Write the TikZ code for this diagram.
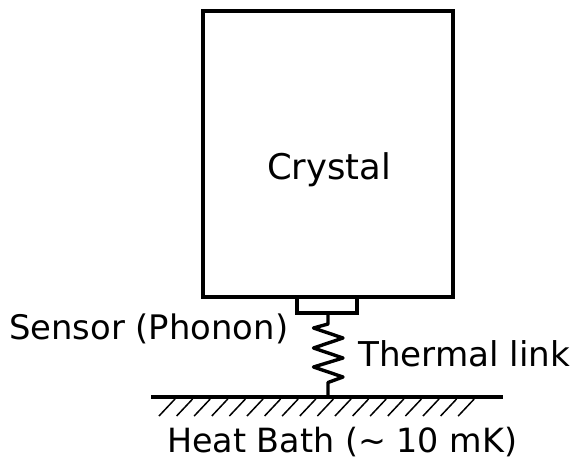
\documentclass[tikz,border=0pt]{standalone}
\usepackage{fontspec}
\setmainfont{DejaVu Sans}
\begin{document}
\begin{tikzpicture}[x=1pt,y=-1pt,
  body/.style={draw=black,line width=3.4pt,inner sep=0pt,outer sep=0pt},
  wire/.style={draw=black,line width=3.4pt,line join=round,line cap=round},
  hatchline/.style={draw=black,line width=1.5pt},
  lbl/.style={inner sep=0pt,font=\fontsize{30}{36}\selectfont,text=black,anchor=base west}]
\useasboundingbox (0,0) rectangle (574,459);
\node[body,minimum width=250pt,minimum height=286pt] (crystal) at (328,154) {};
\node[body,minimum width=60pt,minimum height=16pt] (sensor) at (327,305) {};
\coordinate (bath) at (328,397);
\draw[wire] (328,313) -- (328,324) -- (313.5,328) -- (343,338) -- (313.5,348) -- (343,358) -- (313.5,367) -- (343,377) -- (328,382.5) -- (bath);
\draw[draw=black,line width=3.4pt] (151,397) coordinate (g1) -- (503,397) coordinate (g2);
\foreach \i in {0,...,17}{
  \draw[hatchline] (159+17.6*\i,416) -- (175+17.6*\i,399);
}
\node[lbl] (crystalLabel) at (267,179) {\resizebox{124pt}{!}{Crystal}};
\node[lbl] (sensorLabel) at (9,339) {\resizebox{279pt}{!}{Sensor (Phonon)}};
\node[lbl] (linkLabel) at (358,366) {\resizebox{212pt}{!}{Thermal link}};
\node[lbl] (bathLabel) at (167,452) {\resizebox{350pt}{!}{Heat Bath (\char`\~{} 10 mK)}};
\end{tikzpicture}
\end{document}
